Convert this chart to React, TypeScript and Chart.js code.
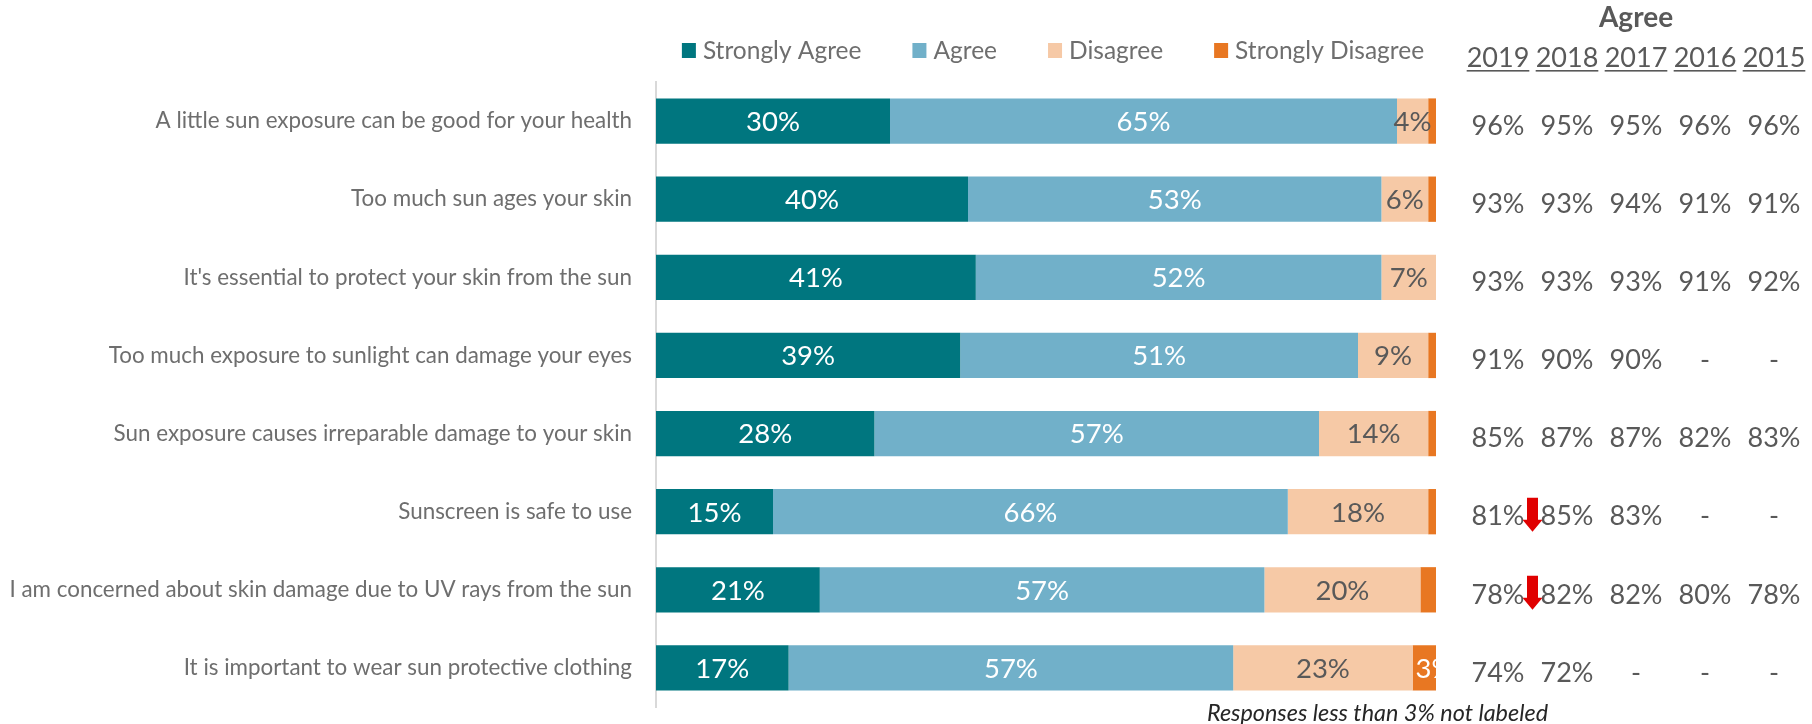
import React, { useEffect, useRef } from 'react';
import { Chart, registerables } from 'chart.js';

Chart.register(...registerables);

// ---------- data ----------
const statements = [
  'A little sun exposure can be good for your health',
  'Too much sun ages your skin',
  "It's essential to protect your skin from the sun",
  'Too much exposure to sunlight can damage your eyes',
  'Sun exposure causes irreparable damage to your skin',
  'Sunscreen is safe to use',
  'I am concerned about skin damage due to UV rays from the sun',
  'It is important to wear sun protective clothing',
];
const seriesNames = ['Strongly Agree', 'Agree', 'Disagree', 'Strongly Disagree'];
const stronglyAgree = [30, 40, 41, 39, 28, 15, 21, 17];
const agree = [65, 53, 52, 51, 57, 66, 57, 57];
const disagree = [4, 6, 7, 9, 14, 18, 20, 23];
const stronglyDisagree = [1, 1, 0, 1, 1, 1, 2, 3];

const tableTitle = 'Agree';
const years = ['2019', '2018', '2017', '2016', '2015'];
const agree2019 = [96, 93, 93, 91, 85, 81, 78, 74];
const agree2018 = [95, 93, 93, 90, 87, 85, 82, 72];
const agree2017 = [95, 94, 93, 90, 87, 83, 82, null];
const agree2016 = [96, 91, 91, null, 82, null, 80, null];
const agree2015 = [96, 91, 92, null, 83, null, 78, null];
const significantDrop = [false, false, false, false, false, true, true, false];

const labelThreshold = 3;
const footnote = 'Responses less than 3% not labeled';

// ---------- style ----------
const FONT = 'Lato';
const seriesColors = ['#00767F', '#71B0C9', '#F6C9A6', '#E87722'];
const labelColors = ['#FFFFFF', '#FFFFFF', '#595959', '#FFFFFF'];
const textGray = '#6E6E6E';
const darkGray = '#595959';

const overlayPlugin = {
  id: 'overlay',
  afterDatasetsDraw(chart: any) {
    const ctx: CanvasRenderingContext2D = chart.ctx;
    const area = chart.chartArea;
    const yScale = chart.scales.y;

    // data labels (clipped to plot area)
    ctx.save();
    ctx.beginPath();
    ctx.rect(area.left, area.top, area.right - area.left, area.bottom - area.top);
    ctx.clip();
    ctx.font = `27.5px ${FONT}`;
    ctx.textBaseline = 'middle';
    ctx.textAlign = 'center';
    const nSets = chart.data.datasets.length;
    chart.data.datasets.forEach((ds: any, di: number) => {
      const meta = chart.getDatasetMeta(di);
      meta.data.forEach((el: any, i: number) => {
        const v = ds.data[i];
        if (v == null || v < labelThreshold) return;
        const p = el.getProps(['x', 'base', 'y'], true);
        const txt = v + '%';
        const w = ctx.measureText(txt).width;
        const segW = Math.abs(p.x - p.base);
        let cx = (p.x + p.base) / 2;
        if (di === nSets - 1 && w > segW) cx = Math.min(p.x, p.base) + w / 2 + 3;
        ctx.fillStyle = labelColors[di];
        ctx.fillText(txt, cx, p.y + 1);
      });
    });
    ctx.restore();

    // legend
    ctx.save();
    ctx.font = `24.5px ${FONT}`;
    ctx.textBaseline = 'alphabetic';
    ctx.textAlign = 'left';
    const widths = seriesNames.map((s) => ctx.measureText(s).width);
    const total = widths.reduce((a, b) => a + b + 21, 0) + 51 * (seriesNames.length - 1);
    let lx = (area.left + area.right) / 2 + 7 - total / 2;
    seriesNames.forEach((s, i) => {
      ctx.fillStyle = seriesColors[i];
      ctx.fillRect(lx, 43, 14, 15);
      ctx.fillStyle = textGray;
      ctx.fillText(s, lx + 21, 59);
      lx += 21 + widths[i] + 51;
    });
    ctx.restore();

    // side table
    const cols = [agree2019, agree2018, agree2017, agree2016, agree2015];
    const colX = (c: number) => area.right + 62 + c * 69;
    ctx.save();
    ctx.textAlign = 'center';
    ctx.fillStyle = darkGray;
    ctx.font = `bold 28px ${FONT}`;
    ctx.textBaseline = 'alphabetic';
    ctx.fillText(tableTitle, (colX(0) + colX(4)) / 2, 27);
    ctx.font = `27px ${FONT}`;
    years.forEach((yr, c) => {
      const cx = colX(c);
      ctx.fillText(yr, cx, 67);
      const w = ctx.measureText(yr).width;
      ctx.fillRect(cx - w / 2, 70, w, 1.6);
    });
    ctx.textBaseline = 'middle';
    cols.forEach((col, c) => {
      col.forEach((v, i) => {
        const cy = yScale.getPixelForValue(i) + 5;
        ctx.fillText(v == null ? '-' : v + '%', colX(c), cy);
      });
    });
    // significant decline arrows
    ctx.fillStyle = '#E00000';
    significantDrop.forEach((flag, i) => {
      if (!flag) return;
      const cx = (colX(0) + colX(1)) / 2;
      const cy = yScale.getPixelForValue(i);
      ctx.beginPath();
      ctx.moveTo(cx - 5.5, cy - 14);
      ctx.lineTo(cx + 5.5, cy - 14);
      ctx.lineTo(cx + 5.5, cy + 8);
      ctx.lineTo(cx + 10, cy + 8);
      ctx.lineTo(cx, cy + 20);
      ctx.lineTo(cx - 10, cy + 8);
      ctx.lineTo(cx - 5.5, cy + 8);
      ctx.closePath();
      ctx.fill();
    });
    ctx.restore();

    // footnote
    ctx.save();
    ctx.font = `italic 23.4px ${FONT}`;
    ctx.fillStyle = '#262626';
    ctx.textAlign = 'right';
    ctx.textBaseline = 'alphabetic';
    ctx.fillText(footnote, area.right + 112, 721);
    ctx.restore();
  },
};

export default function App() {
  const ref = useRef<HTMLCanvasElement>(null);
  useEffect(() => {
    document.body.style.margin = '0';
    const seriesData = [stronglyAgree, agree, disagree, stronglyDisagree];
    const chart = new Chart(ref.current as HTMLCanvasElement, {
      type: 'bar',
      data: {
        labels: statements,
        datasets: seriesNames.map((name, i) => ({
          label: name,
          data: seriesData[i],
          backgroundColor: seriesColors[i],
          borderWidth: 0,
          barPercentage: 0.58,
          categoryPercentage: 1,
        })),
      },
      options: {
        indexAxis: 'y',
        responsive: false,
        animation: false,
        devicePixelRatio: 1,
        layout: { padding: { top: 82, right: 376, bottom: 17, left: 0 } },
        plugins: { legend: { display: false }, tooltip: { enabled: false } },
        scales: {
          x: { stacked: true, min: 0, max: 100, display: false },
          y: {
            type: 'category',
            stacked: true,
            grid: { display: false, drawTicks: false },
            border: { display: true, color: '#D9D9D9', width: 2 },
            ticks: { font: { family: FONT, size: 22.4 }, color: textGray, padding: 24, autoSkip: false },
            afterFit: (s: any) => {
              s.width = 656;
              s.paddingTop = 0;
              s.paddingBottom = 0;
            },
          },
        },
      },
      plugins: [overlayPlugin],
    } as any);
    return () => chart.destroy();
  }, []);
  return (
    <div style={{ width: 1812, height: 724, background: '#FFFFFF' }}>
      <canvas ref={ref} width={1812} height={724} style={{ display: 'block' }} />
    </div>
  );
}
